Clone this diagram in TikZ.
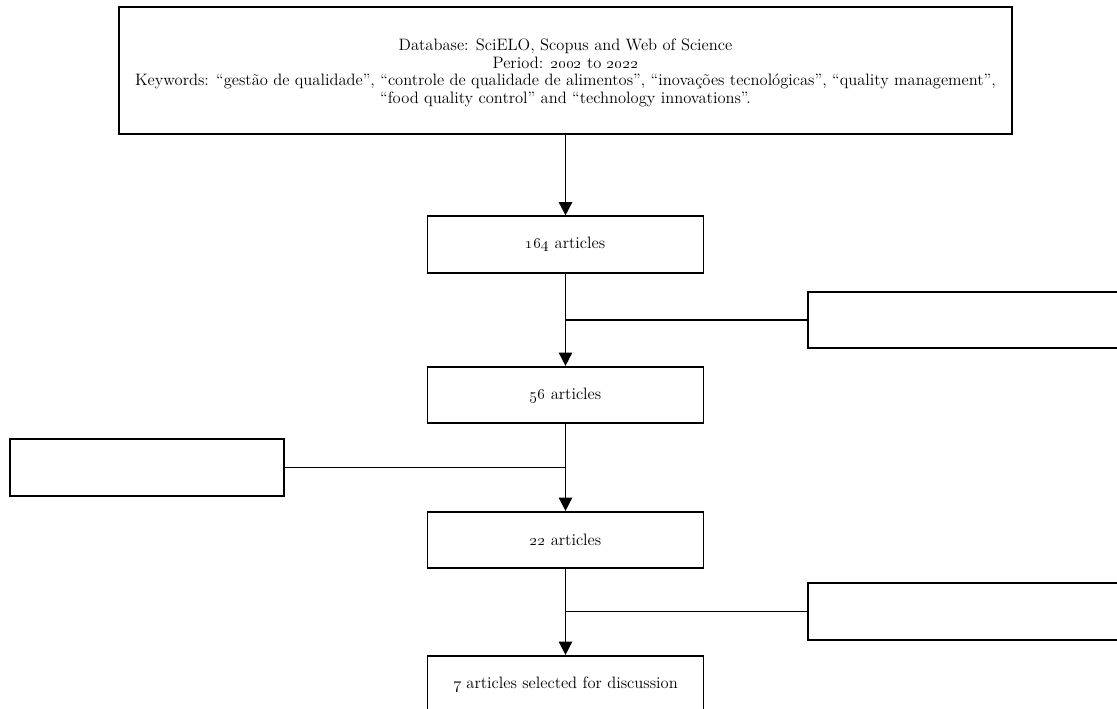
\documentclass[tikz,border=0pt]{standalone}
\usetikzlibrary{arrows.meta}

\begin{document}
\begin{tikzpicture}[x=0.75pt,y=-0.75pt,>={Triangle[width=10pt,length=10pt]},
    font=\fontsize{12.4}{13.1}\selectfont,
    stagebox/.style={draw,line width=1.2pt,minimum width=207pt,minimum height=42.4pt,inner sep=0pt},
    sidebox/.style={draw,line width=1.2pt,minimum height=42.4pt,inner sep=0pt},
    flow/.style={->,line width=1.2pt},
    branch/.style={line width=1.3pt}]
    % page frame (pixel grid of the reference)
    \useasboundingbox (0,0) rectangle (1117,709);

    % column position and row heights
    \def\xmid{565.5}
    \def\yfirst{244.5}
    \def\ysecond{395}
    \def\ythird{540}
    \def\yfourth{684}

    % search box on top
    \node[draw,line width=1.2pt,minimum width=669.75pt,minimum height=95.25pt] (search) at (\xmid,70.5) {};
    \node[align=center,font={\fontsize{12.4}{13.1}\selectfont\lineskiplimit=-4pt\relax}] (searchtext) at (\xmid,73)
        {Database: SciELO, Scopus and Web of Science\\
         Period: \oldstylenums{2002} to \oldstylenums{2022}\\
         Keywords: “gestão de qualidade”, “controle de qualidade de alimentos”, “inovações tecnológicas”, “quality management”,\\
         “food quality control” and “technology innovations”.};

    % screening stages
    \node[stagebox] (n164) at (\xmid,\yfirst)   {\oldstylenums{164} articles};
    \node[stagebox] (n56)  at (\xmid,\ysecond)  {\oldstylenums{56} articles};
    \node[stagebox] (n22)  at (\xmid,\ythird)   {\oldstylenums{22} articles};
    \node[stagebox] (n7)   at (\xmid,\yfourth)  {\oldstylenums{7} articles selected for discussion};

    % exclusion boxes (left empty)
    \node[sidebox,minimum width=241.5pt] (exclA) at (969,320)   {};
    \node[sidebox,minimum width=205.5pt] (exclB) at (147,467.5) {};
    \node[sidebox,minimum width=241.5pt] (exclC) at (969,611.5) {};

    % main arrows
    \draw[flow] (search) -- (n164);
    \draw[flow] (n164) -- (n56);
    \draw[flow] (n56) -- (n22);
    \draw[flow] (n22) -- (n7);

    % side branches
    \draw[branch] (exclA.west) -- (exclA.west -| n164.south);
    \draw[branch] (exclB.east) -- (exclB.east -| n56.south);
    \draw[branch] (exclC.west) -- (exclC.west -| n22.south);
\end{tikzpicture}
\end{document}
